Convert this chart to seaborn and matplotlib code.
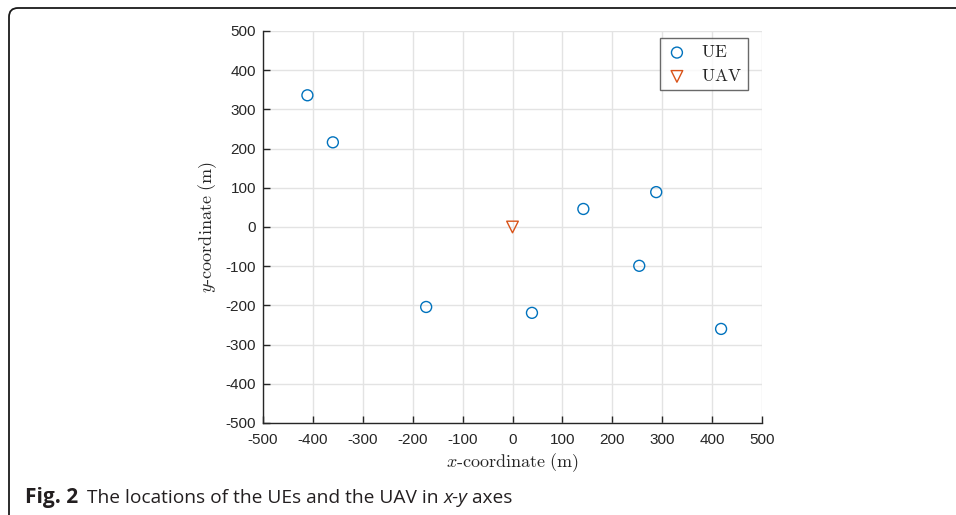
import matplotlib
matplotlib.use("Agg")
import matplotlib.pyplot as plt
import seaborn as sns
import pandas as pd
from matplotlib.patches import FancyBboxPatch

# Data
ue_x = [-411, -360, -173, 39, 142, 254, 288, 418]
ue_y = [336, 216, -204, -219, 46, -99, 89, -260]
uav_x = [0]
uav_y = [0]
ticks = [-500, -400, -300, -200, -100, 0, 100, 200, 300, 400, 500]
tick_labels = [str(t) for t in ticks]

sns.set_theme(style="white")
plt.rcParams["font.family"] = ["Liberation Sans", "DejaVu Sans"]
plt.rcParams["mathtext.fontset"] = "cm"

fig = plt.figure(figsize=(9.56, 5.15), dpi=100)
fig.patch.set_facecolor("white")
ax = fig.add_axes([263 / 956, 1 - 423 / 515, 499 / 956, 392 / 515])
ax.set_facecolor("white")

ue_df = pd.DataFrame({"x": ue_x, "y": ue_y})
uav_df = pd.DataFrame({"x": uav_x, "y": uav_y})

sns.scatterplot(data=ue_df, x="x", y="y", marker="o", s=62, facecolor="none",
                edgecolor="#0072BD", linewidth=1.0, label=r"$\mathrm{UE}$", ax=ax, zorder=3)
sns.scatterplot(data=uav_df, x="x", y="y", marker="v", s=70, facecolor="none",
                edgecolor="#D95319", linewidth=1.0, label=r"$\mathrm{UAV}$", ax=ax, zorder=3)

ax.set_xlim(-500, 500)
ax.set_ylim(-500, 500)
ax.set_xticks(ticks)
ax.set_xticklabels(tick_labels)
ax.set_yticks(ticks)
ax.set_yticklabels(tick_labels)
ax.grid(True, color="#e3e3e3", linewidth=1.0)
ax.set_axisbelow(True)
for s in ["top", "right"]:
    ax.spines[s].set_visible(False)
for s in ["left", "bottom"]:
    ax.spines[s].set_color("#262626")
    ax.spines[s].set_linewidth(1.0)
ax.tick_params(direction="in", length=5, width=1.0, color="#262626",
               labelsize=11, labelcolor="#262626", bottom=True, left=True)
ax.tick_params(axis="x", pad=7)
ax.tick_params(axis="y", pad=5)

ax.set_xlabel(r"$x\mathrm{\text{-}coordinate\ (m)}$", fontsize=13, color="#262626", labelpad=3)
ax.set_ylabel(r"$y\mathrm{\text{-}coordinate\ (m)}$", fontsize=13, color="#262626", labelpad=5)

leg = ax.legend(loc="upper right", bbox_to_anchor=(0.972, 0.982), borderaxespad=0,
                fontsize=12.5, frameon=True, fancybox=False, handletextpad=0.8,
                labelspacing=0.45, borderpad=0.35, handlelength=1.2)
leg.get_frame().set_edgecolor("#444444")
leg.get_frame().set_linewidth(1.0)

# Frame around figure (panel border), in inches
frame = FancyBboxPatch((0.09, -1.0), 12.0, 5.15 - 0.08 + 1.0,
                       boxstyle="round,pad=0,rounding_size=0.09",
                       transform=fig.dpi_scale_trans, fill=False,
                       edgecolor="#1a1a1a", linewidth=1.3, clip_on=False)
fig.patches.append(frame)

# Caption
cap_font = ["Open Sans", "DejaVu Sans"]
base_y = 1 - 503 / 515
t1 = fig.text(25 / 956, base_y, "Fig. 2", fontsize=15, fontweight="bold",
              family=cap_font, color="#231f20", va="baseline")
t2 = fig.text(87 / 956, base_y, "The locations of the UEs and the UAV in ",
              fontsize=13.8, family=cap_font, color="#231f20", va="baseline")
t3 = ax.annotate("x-y", xy=(1, 0), xycoords=t2, xytext=(0, 0), textcoords="offset points",
                 fontsize=13.8, family=cap_font, style="italic", color="#231f20",
                 va="bottom", annotation_clip=False)
t4 = ax.annotate(" axes", xy=(1, 0), xycoords=t3, fontsize=13.8, family=cap_font,
                 color="#231f20", va="bottom", annotation_clip=False)

fig.savefig("out.png", dpi=100)
